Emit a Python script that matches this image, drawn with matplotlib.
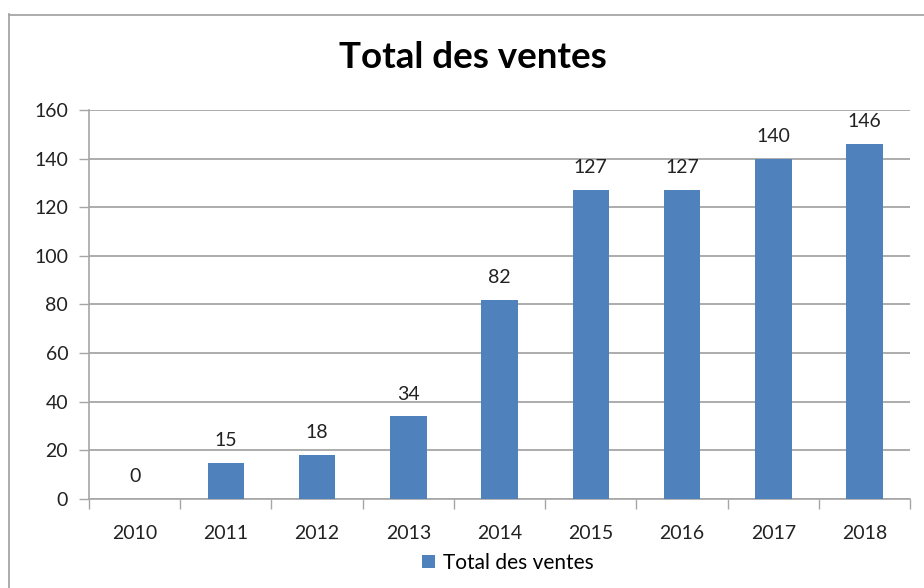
import matplotlib.pyplot as plt
from matplotlib.lines import Line2D
import numpy as np

plt.rcParams['font.family'] = ['Lato', 'DejaVu Sans']

annees = ['2010', '2011', '2012', '2013', '2014', '2015', '2016', '2017', '2018']
ventes = [0, 15, 18, 34, 82, 127, 127, 140, 146]

bleu = '#4F81BD'
gris = '#A6A6A6'

fig = plt.figure(figsize=(9.24, 5.88), dpi=100)
ax = fig.add_axes([0.0963, 0.1514, 0.8887, 0.6616])

x = np.arange(len(annees))
ax.bar(x, ventes, width=0.4, color=bleu, zorder=3, label='Total des ventes')

# etiquettes au-dessus des barres
for xi, v in zip(x, ventes):
    ax.annotate(str(v), (xi, v), xytext=(0, 16), textcoords='offset points',
                ha='center', va='center', fontsize=14, color='#222222')

ax.set_xlim(-0.5, len(annees) - 0.5)
ax.set_ylim(0, 160)
ax.set_yticks(range(0, 161, 20))
ax.yaxis.grid(True, color=gris, lw=1.3, zorder=0)
ax.set_axisbelow(True)

ax.set_xticks(x)
ax.set_xticklabels(annees)
ax.set_xticks(np.arange(-0.5, len(annees)), minor=True)
ax.tick_params(axis='x', which='major', length=0, pad=19, labelsize=14, labelcolor='#222222')
ax.tick_params(axis='x', which='minor', length=7, width=1, color=gris, direction='out')
ax.tick_params(axis='y', length=7, width=1, color=gris, pad=8, labelsize=14, labelcolor='#222222')

for s in ['top', 'right']:
    ax.spines[s].set_visible(False)
for s in ['left', 'bottom']:
    ax.spines[s].set_color(gris)
    ax.spines[s].set_linewidth(1.2)

fig.text(0.512, 0.903, 'Total des ventes', ha='center', va='center',
         fontsize=26.5, fontweight='bold', color='black')

fig.legend(loc='center', bbox_to_anchor=(0.55, 0.043), frameon=False, fontsize=15,
           handlelength=0.6, handleheight=0.6, handletextpad=0.4)

# cadre du graphique (coupé à droite et en bas)
fig.add_artist(Line2D([8.5 / 924, 8.5 / 924], [0, 1 - 14 / 588], color=gris, lw=1.3))
fig.add_artist(Line2D([8.5 / 924, 1], [1 - 14.5 / 588, 1 - 14.5 / 588], color=gris, lw=1.3))

fig.savefig('out.png', dpi=100)
